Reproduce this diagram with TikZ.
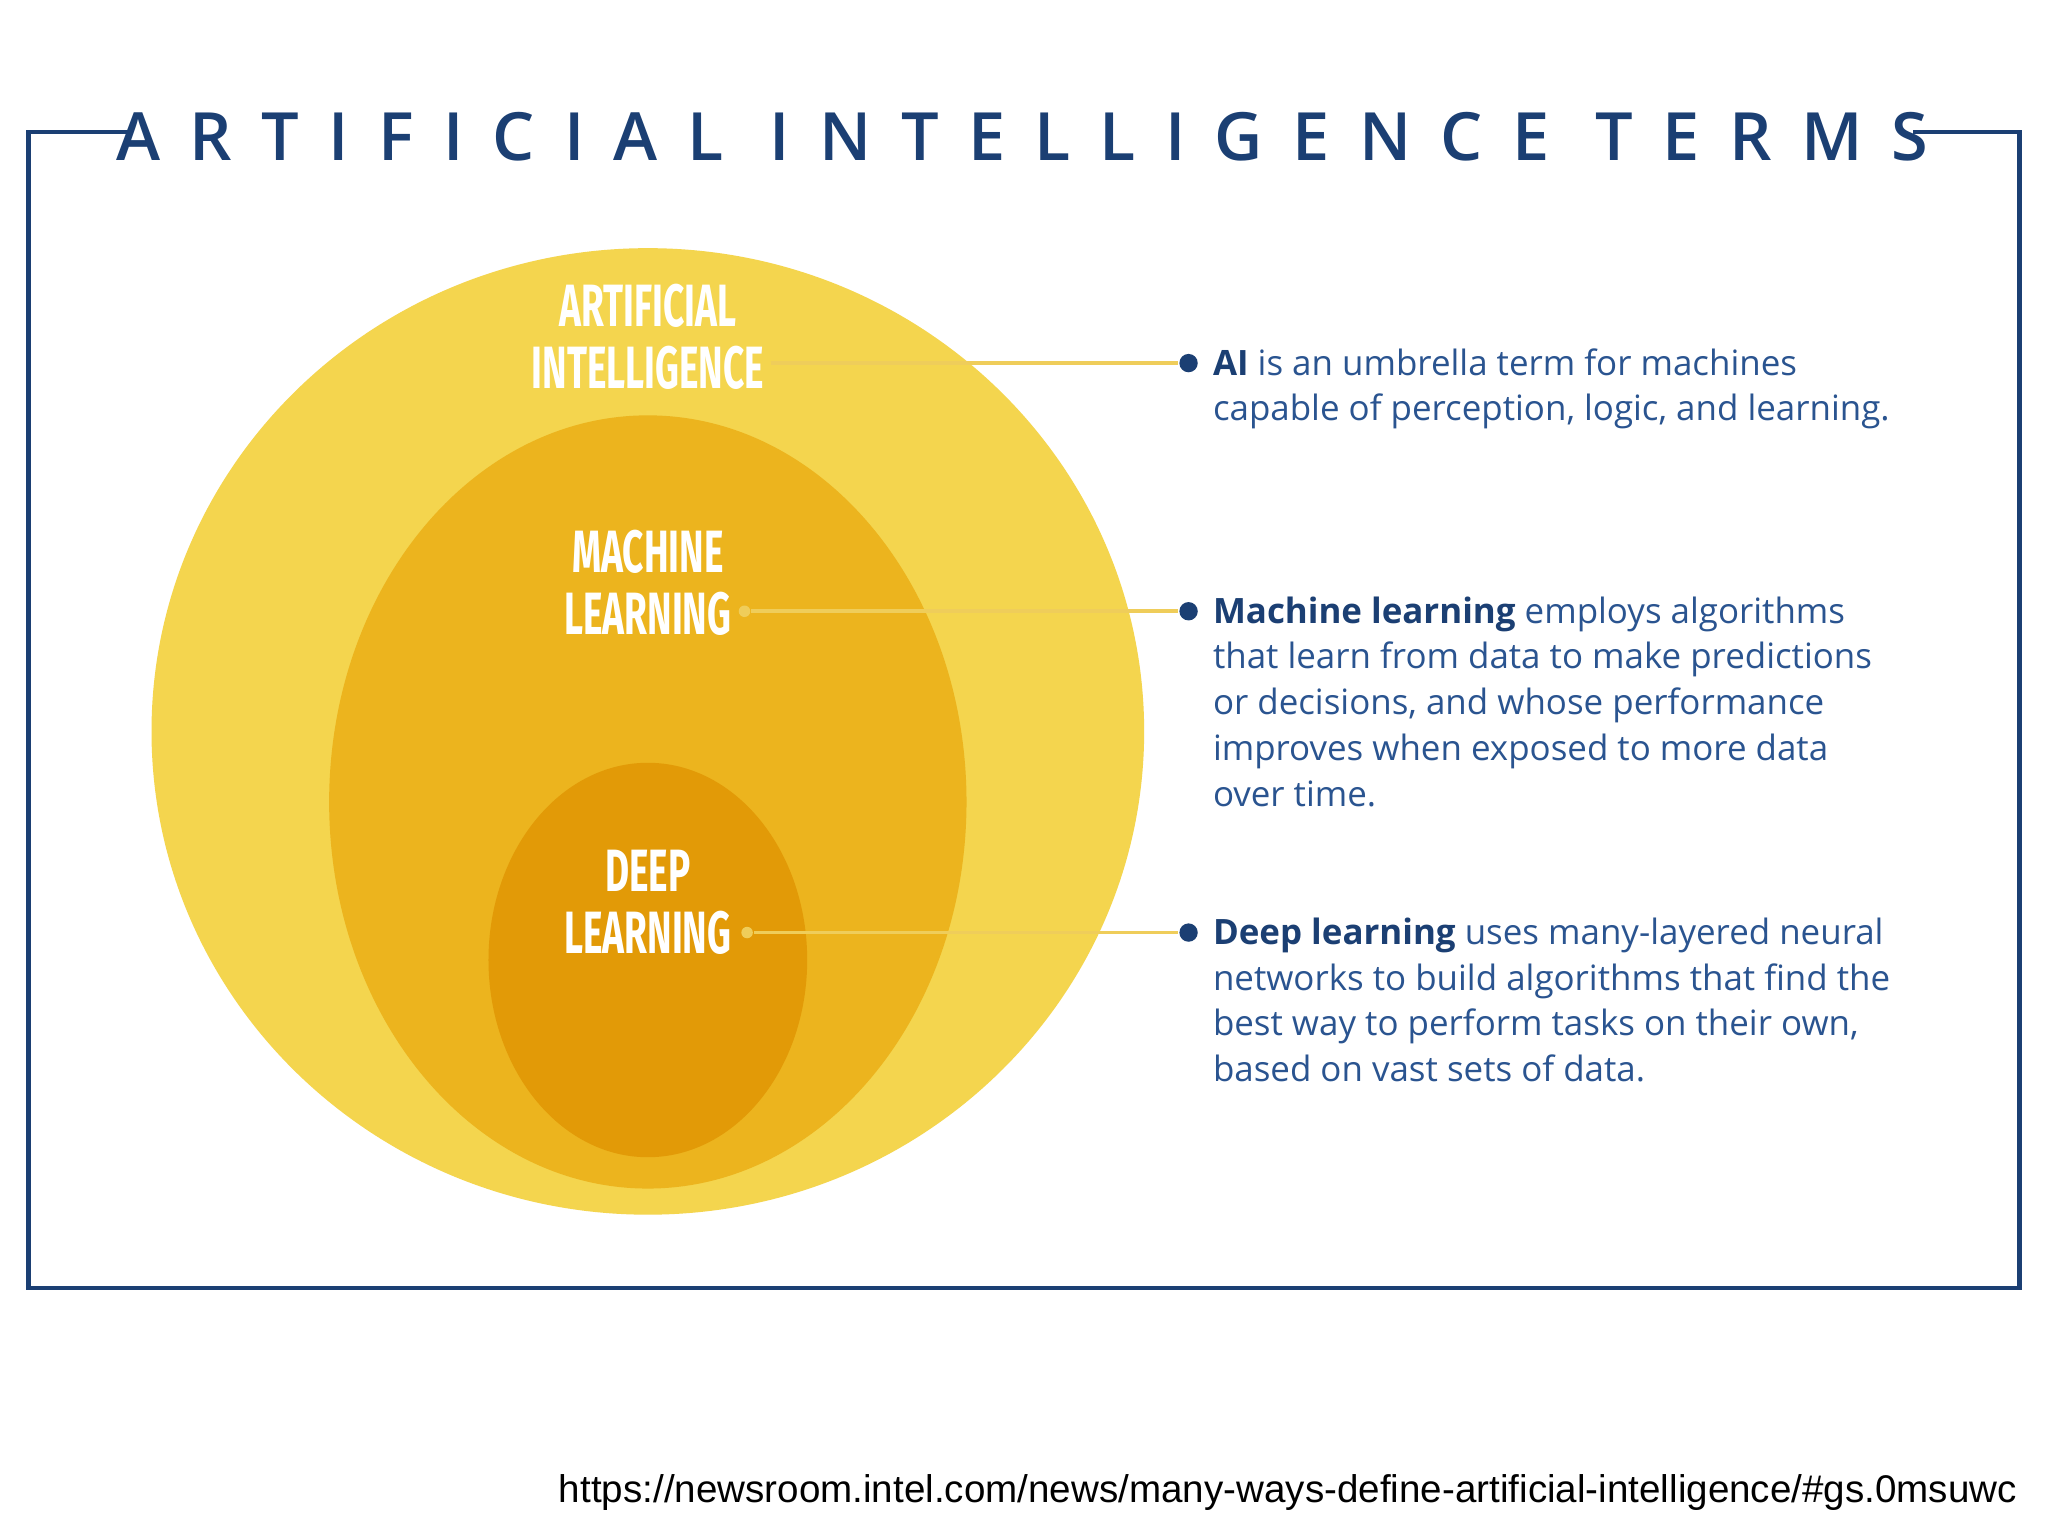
\documentclass[tikz,border=0pt]{standalone}
\usepackage{fontspec}
\setmainfont{Open Sans}
\newfontfamily\titlefont[LetterSpace=44]{Open Sans Semibold}
\newfontfamily\condfont{Fira Sans}
\newfontfamily\urlfont{Liberation Sans}
\definecolor{navy}{HTML}{1B3F73}
\definecolor{txtblue}{HTML}{2A5490}
\definecolor{cOuter}{HTML}{F4D54E}
\definecolor{cMid}{HTML}{ECB41E}
\definecolor{cIn}{HTML}{E29A07}
\definecolor{lead}{HTML}{EFCD5A}
\tikzset{
  lbl/.style={text=white,align=center,font=\condfont\bfseries\fontsize{13}{13.5}\selectfont},
  desc/.style={anchor=north west,align=left,text=txtblue,font=\fontsize{7.6}{9.96}\selectfont,inner sep=0pt},
  leadline/.style={lead,line width=0.8pt},
  bul/.style={circle,fill=navy,inner sep=0pt,minimum size=4pt},
  ldot/.style={circle,fill=lead,inner sep=0pt,minimum size=2.5pt}
}
\begin{document}
\begin{tikzpicture}[x=0.01cm,y=-0.01cm]
\useasboundingbox (0,0) rectangle (1568,1176);
\fill[white] (0,0) rectangle (1568,1176);
% frame
\draw[navy,line width=1pt] (100,101) -- (22,101) -- (22,986) -- (1546,986) -- (1546,101) -- (1465,101);
\node[text=navy,font=\titlefont\fontsize{14.5}{15}\selectfont] (title) at (783,105) {ARTIFICIAL INTELLIGENCE TERMS};
% circles
\fill[cOuter] (496,560) ellipse [x radius=380,y radius=370];
\fill[cMid] (496,614) ellipse [x radius=244,y radius=296];
\fill[cIn] (496,735) ellipse [x radius=122,y radius=151];
% labels
\node[lbl] (ai) at (496,258) {\scalebox{0.62}[1]{ARTIFICIAL}\\\scalebox{0.62}[1]{INTELLIGENCE}};
\node[lbl] (ml) at (496,446) {\scalebox{0.62}[1]{MACHINE}\\\scalebox{0.62}[1]{LEARNING}};
\node[lbl] (dl) at (496,691) {\scalebox{0.62}[1]{DEEP}\\\scalebox{0.62}[1]{LEARNING}};
% bullets
\node[bul] (b1) at (910,278) {};
\node[bul] (b2) at (910,468) {};
\node[bul] (b3) at (910,714) {};
\coordinate (s1) at (590,278);
\node[ldot] (s2) at (570,468) {};
\node[ldot] (s3) at (572,714) {};
\draw[leadline] (s1) -- (b1.west);
\draw[leadline] (s2) -- (b2.west);
\draw[leadline] (s3) -- (b3.west);
% descriptions
\node[desc] (d1) at (928,266) {\textbf{\color{navy}AI} is an umbrella term for machines\\capable of perception, logic, and learning.};
\node[desc] (d2) at (928,456) {\textbf{\color{navy}Machine learning} employs algorithms\\that learn from data to make predictions\\or decisions, and whose performance\\improves when exposed to more data\\over time.};
\node[desc] (d3) at (928,702) {\textbf{\color{navy}Deep learning} uses many-layered neural\\networks to build algorithms that find the\\best way to perform tasks on their own,\\based on vast sets of data.};
% url
\node[anchor=east,inner sep=0pt,font=\urlfont\fontsize{8.4}{10}\selectfont] (url) at (1545,1143) {https://newsroom.intel.com/news/many-ways-define-artificial-intelligence/\#gs.0msuwc};
\end{tikzpicture}
\end{document}
